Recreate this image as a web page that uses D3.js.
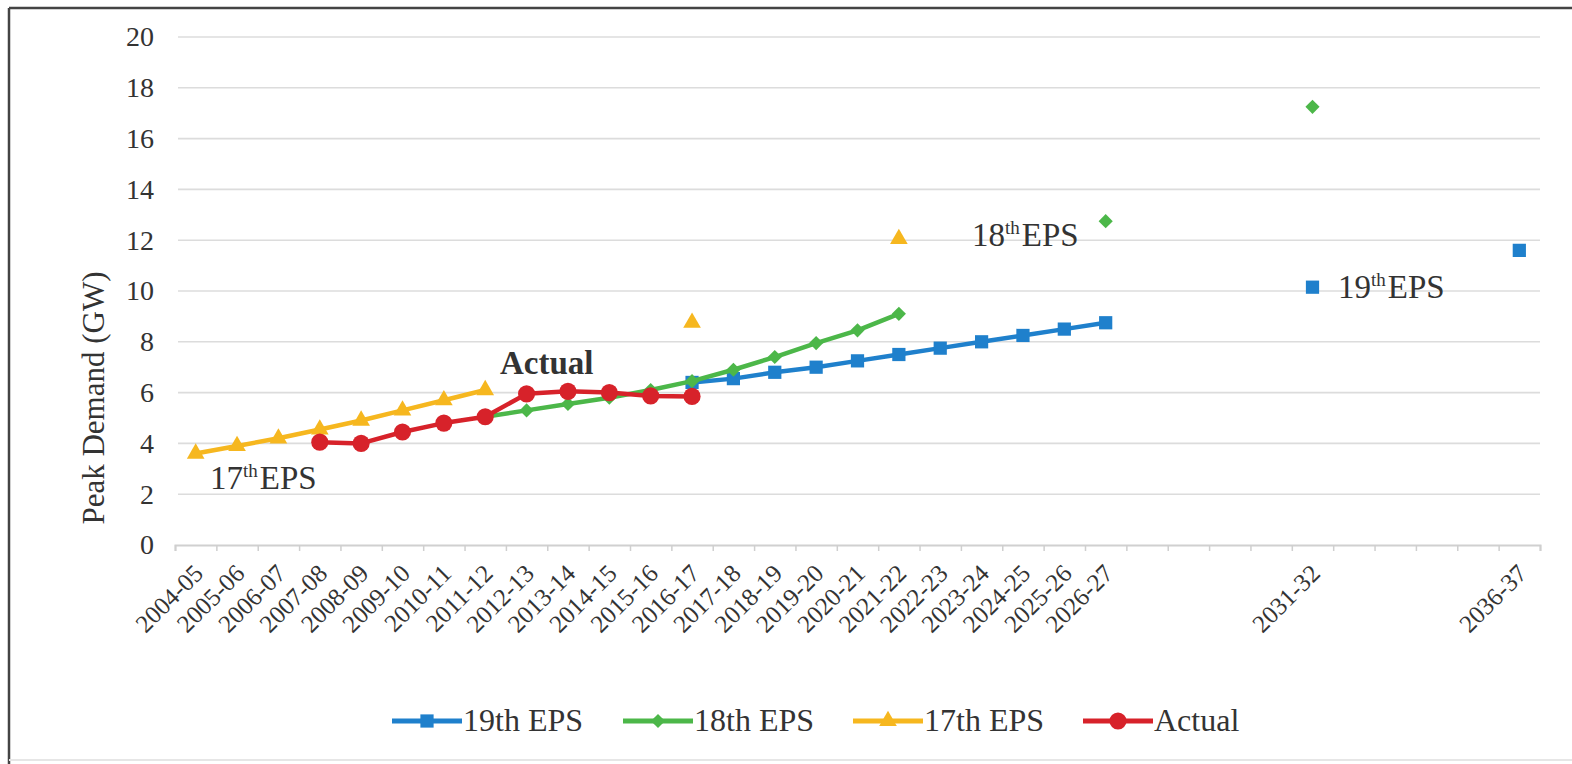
<!DOCTYPE html>
<html><head><meta charset="utf-8">
<script src="https://cdn.jsdelivr.net/npm/d3@7"></script>
<style>body{margin:0;background:#fff}svg{display:block}</style>
</head><body>
<svg id="c" width="1572" height="764"></svg>
<script>
// ---------- data ----------
const categories = ["2004-05","2005-06","2006-07","2007-08","2008-09","2009-10","2010-11","2011-12","2012-13","2013-14","2014-15","2015-16","2016-17","2017-18","2018-19","2019-20","2020-21","2021-22","2022-23","2023-24","2024-25","2025-26","2026-27","2027-28","2028-29","2029-30","2030-31","2031-32","2032-33","2033-34","2034-35","2035-36","2036-37"];
const tickLabels = ["2004-05","2005-06","2006-07","2007-08","2008-09","2009-10","2010-11","2011-12","2012-13","2013-14","2014-15","2015-16","2016-17","2017-18","2018-19","2019-20","2020-21","2021-22","2022-23","2023-24","2024-25","2025-26","2026-27","2031-32","2036-37"];
const eps19 = [null,null,null,null,null,null,null,null,null,null,null,null,6.4,6.55,6.8,7.0,7.25,7.5,7.75,8.0,8.25,8.5,8.75,null,null,null,null,10.15,null,null,null,null,11.6];
const eps18 = [null,null,null,null,null,null,null,5.05,5.3,5.55,5.8,6.1,6.45,6.9,7.4,7.95,8.45,9.1,null,null,null,null,12.75,null,null,null,null,17.25,null,null,null,null,null];
const eps17 = [3.6,3.9,4.2,4.55,4.9,5.3,5.7,6.1,null,null,null,null,8.75,null,null,null,null,12.05,null,null,null,null,null,null,null,null,null,null,null,null,null,null,null];
const actual = [null,null,null,4.05,4.0,4.45,4.8,5.05,5.95,6.05,6.0,5.87,5.85,null,null,null,null,null,null,null,null,null,null,null,null,null,null,null,null,null,null,null,null];
const seriesNames = ["19th EPS","18th EPS","17th EPS","Actual"];
const yTicks = [0,2,4,6,8,10,12,14,16,18,20];

// ---------- setup ----------
const svg = d3.select("#c");
const serif = "'Liberation Serif','Times New Roman',serif";
const colors = ["#1f80cc","#4cb749","#f6b71f","#d7222a"];
const symbols = [d3.symbolSquare, d3.symbolSquare, d3.symbolTriangle, d3.symbolCircle];
const symSizes = [175, 100, 135, 230];
const symRot = [0, 45, 0, 0];
const seriesData = [eps19, eps18, eps17, actual];

const x = d3.scalePoint().domain(categories).range([175, 1540]).padding(0.5);
const y = d3.scaleLinear().domain([0, 20]).range([545, 37]);
const xEdge = d3.scaleLinear().domain([0, categories.length]).range([175, 1540]);

// frame
svg.append("line").attr("x1",9).attr("y1",8).attr("x2",1572).attr("y2",8).attr("stroke","#444").attr("stroke-width",2.5);
svg.append("line").attr("x1",9).attr("y1",8).attr("x2",9).attr("y2",764).attr("stroke","#444").attr("stroke-width",2.5);
svg.append("line").attr("x1",9).attr("y1",760).attr("x2",1572).attr("y2",760).attr("stroke","#e6e6e6").attr("stroke-width",2);

// gridlines
svg.append("g").selectAll("line").data(yTicks.filter(d => d > 0)).join("line")
  .attr("x1", 178).attr("x2", 1540)
  .attr("y1", d => y(d)).attr("y2", d => y(d))
  .attr("stroke", "#dcdcdc").attr("stroke-width", 1.6);

// y axis labels
const yAxis = svg.append("g").attr("transform", "translate(178,0)")
  .call(d3.axisLeft(y).tickValues(yTicks).tickSize(0).tickPadding(24));
yAxis.select(".domain").remove();
yAxis.selectAll("text").attr("font-family", serif).attr("font-size", 28).attr("fill", "#333");

// x axis line + boundary ticks
const xAxis = svg.append("g").attr("transform", `translate(0,${y(0)})`)
  .call(d3.axisBottom(xEdge).tickValues(d3.range(categories.length + 1)).tickSize(6).tickFormat(""));
xAxis.select(".domain").attr("stroke", "#d0d0d0").attr("stroke-width", 2);
xAxis.selectAll(".tick line").attr("stroke", "#cfcfcf").attr("stroke-width", 1.5);

// x category labels
svg.append("g").selectAll("text").data(tickLabels).join("text")
  .attr("transform", d => `translate(${x(d) + 9},${y(0) + 30}) rotate(-45)`)
  .attr("text-anchor", "end")
  .attr("font-family", serif).attr("font-size", 25).attr("fill", "#333")
  .text(d => d);

// y axis title
svg.append("text")
  .attr("transform", `translate(104,398) rotate(-90)`)
  .attr("text-anchor", "middle")
  .attr("font-family", serif).attr("font-size", 31).attr("fill", "#333")
  .text("Peak Demand (GW)");

// lines + markers
const line = d3.line().defined(d => d.v != null).x(d => x(d.c)).y(d => y(d.v));
seriesData.forEach((arr, i) => {
  const pts = categories.map((c, k) => ({c, v: arr[k]}));
  svg.append("path").datum(pts).attr("d", line)
    .attr("fill", "none").attr("stroke", colors[i]).attr("stroke-width", 4.5)
    .attr("stroke-linejoin", "round");
  svg.append("g").selectAll("path").data(pts.filter(d => d.v != null)).join("path")
    .attr("d", d3.symbol().type(symbols[i]).size(symSizes[i]))
    .attr("transform", d => `translate(${x(d.c)},${y(d.v)}) rotate(${symRot[i]})`)
    .attr("fill", colors[i]);
});

// annotations
function annot(xp, yp, num, rest, bold) {
  const t = svg.append("text").attr("x", xp).attr("y", yp)
    .attr("font-family", serif).attr("font-size", 33).attr("fill", "#333")
    .attr("font-weight", bold ? "bold" : "normal");
  t.append("tspan").text(num);
  if (rest !== null) {
    t.append("tspan").attr("font-size", 19).attr("dy", -12).text("th");
    t.append("tspan").attr("dy", 12).attr("dx", 2).text(rest);
  }
}
annot(210, 489, "17", "EPS", false);
annot(972, 246, "18", "EPS", false);
annot(1338, 298, "19", "EPS", false);
annot(500, 374, "Actual", null, true);

// legend
const legX = [392, 623, 853, 1083];
const legY = 721;
seriesNames.forEach((n, i) => {
  const g = svg.append("g").attr("transform", `translate(${legX[i]},${legY})`);
  g.append("line").attr("x1", 0).attr("x2", 70).attr("stroke", colors[i]).attr("stroke-width", 5);
  g.append("path").attr("d", d3.symbol().type(symbols[i]).size(symSizes[i]))
    .attr("transform", `translate(35,0) rotate(${symRot[i]})`).attr("fill", colors[i]);
  g.append("text").attr("x", 71).attr("y", 10)
    .attr("font-family", serif).attr("font-size", 32).attr("fill", "#333")
    .text(n);
});
</script>
</body></html>
